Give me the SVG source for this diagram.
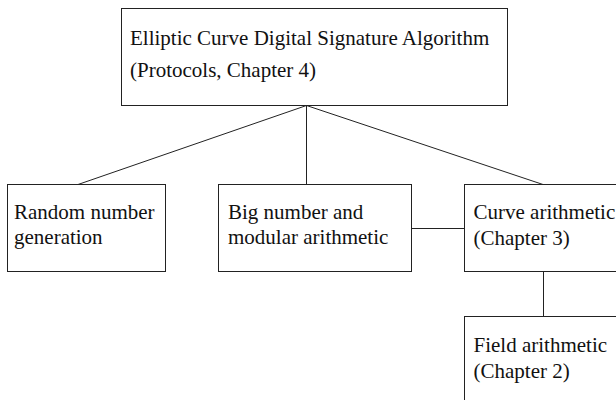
<svg xmlns="http://www.w3.org/2000/svg" width="616" height="400" viewBox="0 0 616 400">
<style>
.box{fill:#fff;stroke:#222;stroke-width:1}
.edge{stroke:#222;stroke-width:1;fill:none}
text{font-family:"Liberation Serif","Times New Roman",serif;font-size:21px;fill:#111}
</style>
<rect width="616" height="400" fill="#fff"/>
<g id="connectors">
<line class="edge" x1="306.5" y1="105.5" x2="78" y2="184.5"/>
<line class="edge" x1="306.5" y1="105.5" x2="306.5" y2="184.5"/>
<line class="edge" x1="306.5" y1="105.5" x2="543" y2="184.5"/>
<line class="edge" x1="411.5" y1="228.5" x2="464.5" y2="228.5"/>
<line class="edge" x1="543.5" y1="272" x2="543.5" y2="316"/>
</g>
<g id="ecdsa">
<rect class="box" x="121.5" y="8.5" width="386" height="97"/>
<text x="130" y="45">Elliptic Curve Digital Signature Algorithm</text>
<text x="130" y="77">(Protocols, Chapter 4)</text>
</g>
<g id="random">
<rect class="box" x="7.5" y="184.5" width="158" height="87"/>
<text x="14" y="219">Random number</text>
<text x="14" y="244">generation</text>
</g>
<g id="bignum">
<rect class="box" x="218.5" y="184.5" width="193" height="87"/>
<text x="228" y="219">Big number and</text>
<text x="228" y="244">modular arithmetic</text>
</g>
<g id="curve">
<rect class="box" x="464.5" y="184.5" width="160" height="87"/>
<text x="473.5" y="219">Curve arithmetic</text>
<text x="473.5" y="245">(Chapter 3)</text>
</g>
<g id="field">
<rect class="box" x="464.5" y="316.5" width="160" height="90"/>
<text x="473.5" y="352">Field arithmetic</text>
<text x="473.5" y="378">(Chapter 2)</text>
</g>
</svg>
